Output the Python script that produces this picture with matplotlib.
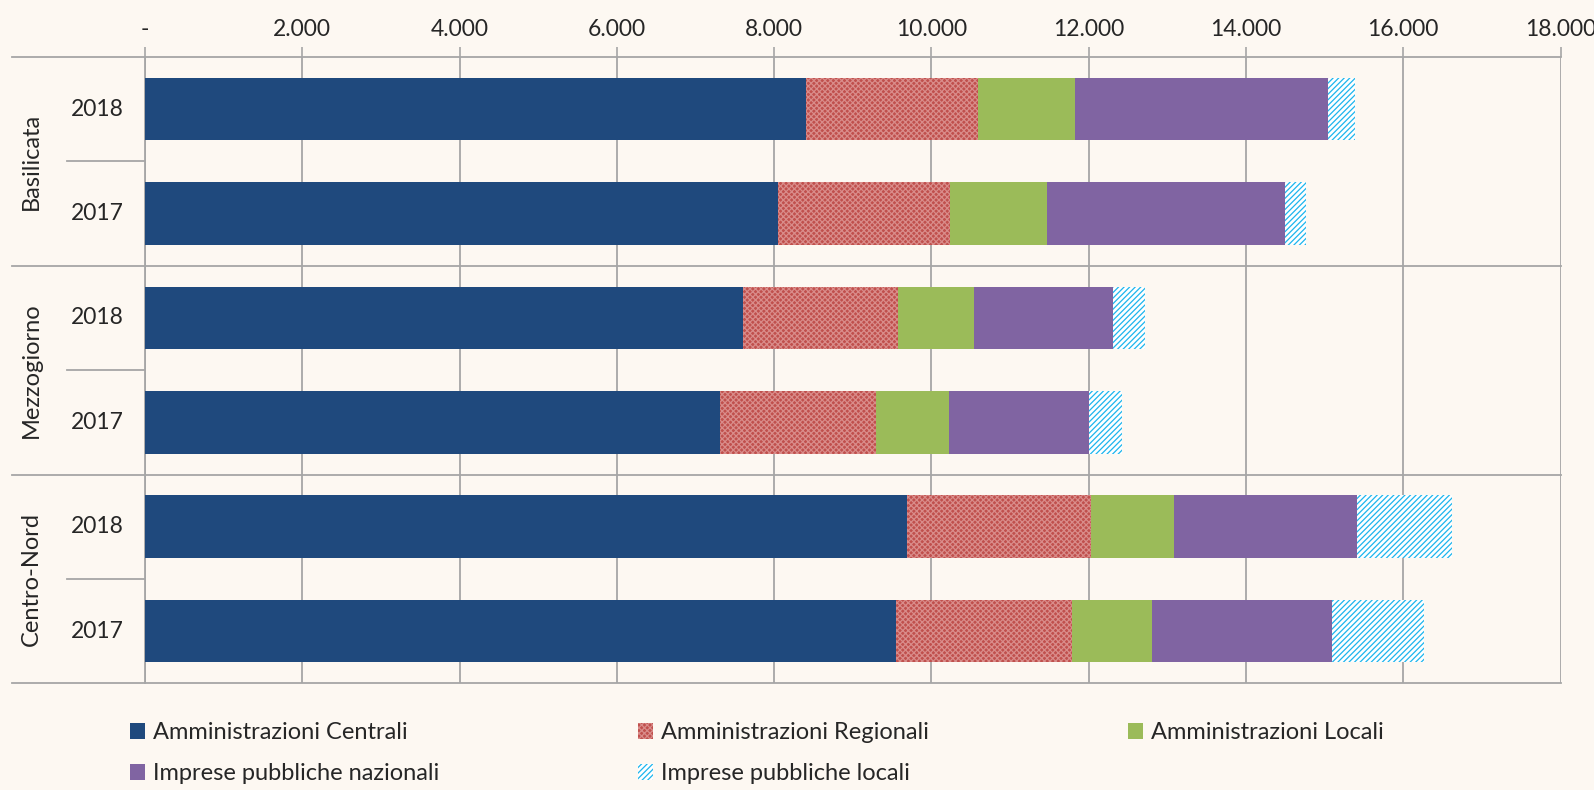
import matplotlib.pyplot as plt
import numpy as np

regioni = ['Basilicata', 'Mezzogiorno', 'Centro-Nord']
anni = ['2018', '2017']
serie = ['Amministrazioni Centrali', 'Amministrazioni Regionali', 'Amministrazioni Locali',
         'Imprese pubbliche nazionali', 'Imprese pubbliche locali']

# righe dall'alto: Bas 2018, Bas 2017, Mez 2018, Mez 2017, CN 2018, CN 2017
amm_centrali = [8410, 8050, 7600, 7310, 9690, 9550]
amm_regionali = [2180, 2190, 1970, 1990, 2340, 2240]
amm_locali = [1230, 1230, 970, 920, 1050, 1020]
imp_nazionali = [3220, 3030, 1770, 1780, 2330, 2280]
imp_locali = [350, 260, 410, 420, 1210, 1180]

bg = '#FDF8F2'
grid_col = '#A6A6A6'
plt.rcParams['font.family'] = ['Lato', 'DejaVu Sans']
plt.rcParams['hatch.linewidth'] = 0.9

fig = plt.figure(figsize=(15.94, 7.9), dpi=100, facecolor=bg)
ax = fig.add_axes([0.091, 0.135, 0.888, 0.793], facecolor=bg)

valori = [amm_centrali, amm_regionali, amm_locali, imp_nazionali, imp_locali]
stili = [
    dict(color='#1F497D'),
    dict(facecolor='#C0504D', edgecolor='#D98C8A', hatch='xxxxxx', linewidth=0),
    dict(color='#9BBB59'),
    dict(color='#8064A2'),
    dict(facecolor='white', edgecolor='#1CB5EE', hatch='//////', linewidth=0),
]

n = len(amm_centrali)
y = np.arange(n)
left = np.zeros(n)
handles = []
for vals, st, nome in zip(valori, stili, serie):
    b = ax.barh(y, vals, left=left, height=0.6, label=nome, zorder=3, **st)
    handles.append(b)
    left += np.array(vals)

ax.set_ylim(n - 0.5, -0.5)
ax.set_xlim(0, 18000)
ax.set_xticks(np.arange(0, 18001, 2000))
ax.set_xticklabels(['-'] + [f'{v:,}'.replace(',', '.') for v in range(2000, 18001, 2000)])
ax.xaxis.tick_top()
ax.tick_params(axis='x', length=7, width=1.2, color=grid_col, labelsize=16.5,
               labelcolor='#262626', pad=5)
ax.grid(axis='x', color=grid_col, linewidth=1.3, zorder=0)
ax.set_yticks([])
for s in ['right', 'bottom', 'top']:
    ax.spines[s].set_visible(False)
ax.spines['left'].set_color(grid_col)
ax.spines['left'].set_linewidth(1.3)

# separatori e etichette asse categorie
tr = ax.get_yaxis_transform()
for i in range(n + 1):
    yy = i - 0.5
    x0 = -78 / 1416 if i % 2 else -133 / 1416
    ax.plot([x0, 0 if i % 2 else 1], [yy, yy], transform=tr, color=grid_col,
            linewidth=1.3, clip_on=False, zorder=1)
for i in range(n):
    ax.text(-48 / 1416, i, anni[i % 2], transform=tr, ha='center', va='center',
            fontsize=16.5, color='#262626')
for k, reg in enumerate(regioni):
    ax.text(-114 / 1416, 2 * k + 0.5, reg, transform=tr, ha='center', va='center',
            rotation=90, fontsize=17, color='#262626')

ordine = [0, 3, 1, 4, 2]
fig.legend([handles[i] for i in ordine], [serie[i] for i in ordine],
           loc='upper left', bbox_to_anchor=(0.068, 0.113), ncol=3, frameon=False,
           fontsize=17, handlelength=0.65, handleheight=0.65, handletextpad=0.35,
           columnspacing=8.4, labelspacing=0.85, labelcolor='#262626')

fig.savefig('out.png', dpi=100, facecolor=bg)
